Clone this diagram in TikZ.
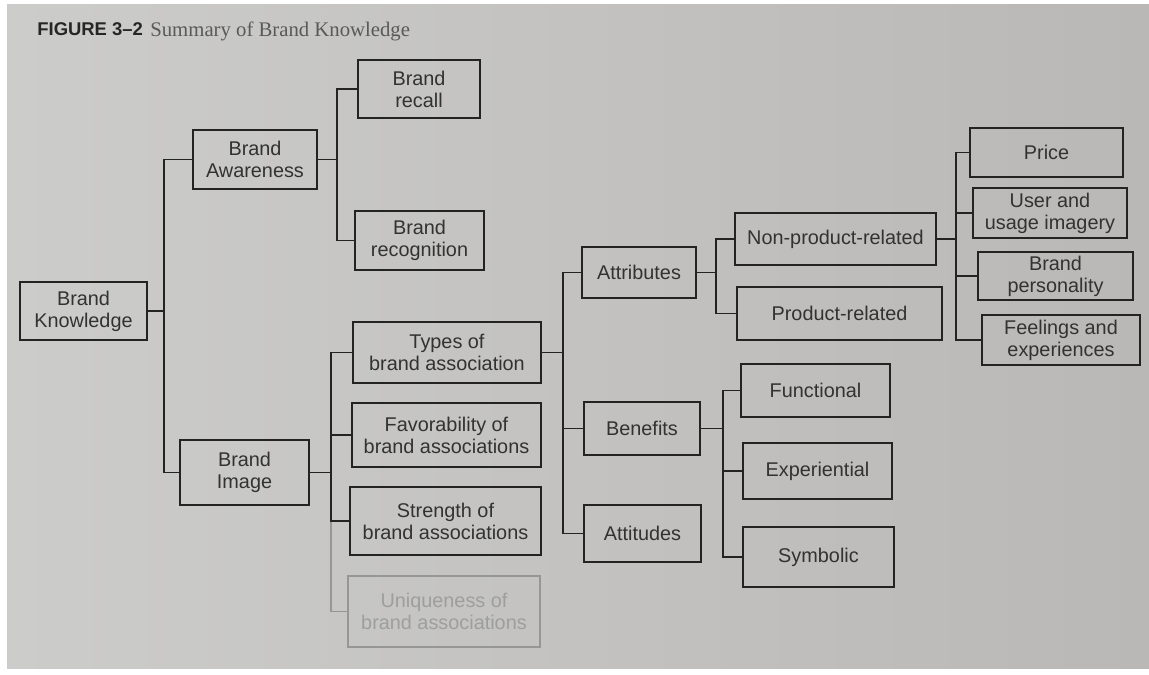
\documentclass[tikz,border=0pt]{standalone}
\usepackage{fontspec}
\setmainfont{Liberation Sans}
\newfontfamily\ttlserif{Liberation Serif}
\definecolor{linec}{RGB}{35,35,35}
\definecolor{textc}{RGB}{50,50,50}
\definecolor{fadec}{RGB}{150,150,150}
\definecolor{fadetext}{RGB}{158,158,158}
\definecolor{bgl}{RGB}{204,204,202}
\definecolor{bgr}{RGB}{186,184,182}
\begin{document}
\begin{tikzpicture}[x=0.02cm,y=-0.02cm,
  box/.style={draw=linec, line width=1.1pt, text=textc, align=center, inner sep=0pt,
    font=\fontsize{11.3}{12.6}\selectfont},
  conn/.style={draw=linec, line width=0.9pt},
  faint/.style={draw=fadec, text=fadetext}]
\fill[white] (0,0) rectangle (1149,675);
\shade[left color=bgl, right color=bgr] (7,5) rectangle (1149,668);
\useasboundingbox (0,0) rectangle (1149,675);

% title
\node[anchor=west, inner sep=0pt, text=black!85, font=\bfseries\fontsize{10.5}{12}\selectfont] (fig) at (37,29) {FIGURE 3–2};
\node[anchor=west, inner sep=0pt, text=black!65, font=\ttlserif\fontsize{11.8}{13}\selectfont] (sum) at (150,31) {Summary of Brand Knowledge};

% level 0-1
\node[box, minimum width=2.54cm, minimum height=1.16cm] (bk) at (83.5,311) {Brand\\Knowledge};
\node[box, minimum width=2.48cm, minimum height=1.18cm] (ba) at (255,159.5) {Brand\\Awareness};
\node[box, minimum width=2.58cm, minimum height=1.30cm] (bi) at (244.5,472.5) {Brand\\Image};

% awareness children
\node[box, minimum width=2.44cm, minimum height=1.16cm] (rc) at (419,89) {Brand\\recall};
\node[box, minimum width=2.58cm, minimum height=1.18cm] (rg) at (419.5,240.5) {Brand\\recognition};

% image children
\node[box, minimum width=3.76cm, minimum height=1.22cm] (ty) at (447,352.5) {Types of\\brand association};
\node[box, minimum width=3.78cm, minimum height=1.28cm] (fa) at (446.5,435) {Favorability of\\brand associations};
\node[box, minimum width=3.82cm, minimum height=1.36cm] (st) at (445.5,521) {Strength of\\brand associations};
\node[box, faint, minimum width=3.84cm, minimum height=1.42cm] (uq) at (444,611.5) {Uniqueness of\\brand associations};

% types children
\node[box, minimum width=2.28cm, minimum height=1.02cm] (at) at (639,272.5) {Attributes};
\node[box, minimum width=2.32cm, minimum height=1.06cm] (be) at (642,428.5) {Benefits};
\node[box, minimum width=2.34cm, minimum height=1.14cm] (au) at (642.5,533.5) {Attitudes};

% attributes children
\node[box, minimum width=4.02cm, minimum height=1.04cm] (np) at (835.5,239) {Non-product-related};
\node[box, minimum width=4.10cm, minimum height=1.06cm] (pr) at (839.5,313.5) {Product-related};

% benefits children
\node[box, minimum width=2.98cm, minimum height=1.06cm] (fu) at (815.5,390.5) {Functional};
\node[box, minimum width=2.98cm, minimum height=1.12cm] (ex) at (817.5,471) {Experiential};
\node[box, minimum width=3.02cm, minimum height=1.20cm] (sy) at (818.5,557) {Symbolic};

% non-product children
\node[box, minimum width=3.06cm, minimum height=0.98cm] (pc) at (1046.5,152.5) {Price};
\node[box, minimum width=3.08cm, minimum height=1.00cm] (us) at (1050,213) {User and\\usage imagery};
\node[box, minimum width=3.10cm, minimum height=0.96cm] (bp) at (1055.5,276) {Brand\\personality};
\node[box, minimum width=3.16cm, minimum height=1.00cm] (fe) at (1061,340) {Feelings and\\experiences};

% connectors
\draw[conn] (bk.east) -- ++(0.32cm,0) |- (ba.west);
\draw[conn] (bk.east) -- ++(0.32cm,0) |- (bi.west);

\draw[conn] (ba.east) -- ++(0.38cm,0) |- (rc.west);
\draw[conn] (ba.east) -- ++(0.38cm,0) |- (rg.west);

\draw[conn, draw=fadec] (bi.east) -- ++(0.42cm,0) |- (uq.west);
\draw[conn] (bi.east) -- ++(0.42cm,0) |- (ty.west);
\draw[conn] (bi.east) -- ++(0.42cm,0) |- (fa.west);
\draw[conn] (bi.east) -- ++(0.42cm,0) |- (st.west);

\draw[conn] (ty.east) -- ++(0.42cm,0) |- (at.west);
\draw[conn] (ty.east) -- ++(0.42cm,0) |- (be.west);
\draw[conn] (ty.east) -- ++(0.42cm,0) |- (au.west);

\draw[conn] (at.east) -- ++(0.38cm,0) |- (np.west);
\draw[conn] (at.east) -- ++(0.38cm,0) |- (pr.west);

\draw[conn] (be.east) -- ++(0.44cm,0) |- (fu.west);
\draw[conn] (be.east) -- ++(0.44cm,0) |- (ex.west);
\draw[conn] (be.east) -- ++(0.44cm,0) |- (sy.west);

\draw[conn] (np.east) -- ++(0.38cm,0) |- (pc.west);
\draw[conn] (np.east) -- ++(0.38cm,0) |- (us.west);
\draw[conn] (np.east) -- ++(0.38cm,0) |- (bp.west);
\draw[conn] (np.east) -- ++(0.38cm,0) |- (fe.west);
\end{tikzpicture}
\end{document}
